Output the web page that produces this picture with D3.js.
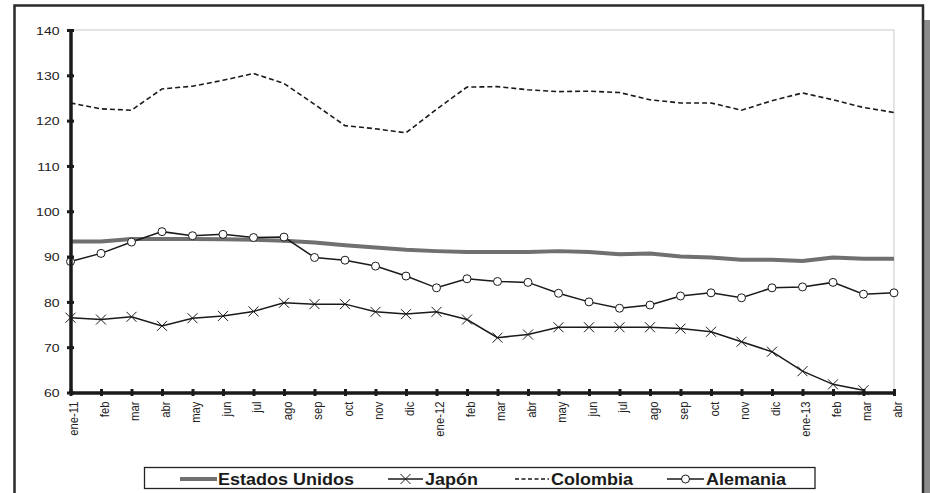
<!DOCTYPE html>
<html><head><meta charset="utf-8">
<script src="https://cdn.jsdelivr.net/npm/d3@7"></script>
<style>
html,body{margin:0;padding:0;background:#fff;}
svg{display:block;font-family:"Liberation Sans",Arial,sans-serif;}
</style></head>
<body>
<svg id="chart" width="930" height="493"></svg>
<script>
const monthLabels = ["ene-11","feb","mar","abr","may","jun","jul","ago","sep","oct","nov","dic",
  "ene-12","feb","mar","abr","may","jun","jul","ago","sep","oct","nov","dic",
  "ene-13","feb","mar","abr"];
const yTicks = [60,70,80,90,100,110,120,130,140];
const estadosUnidos = [93.3,93.3,93.9,93.9,93.9,93.8,93.7,93.5,93.1,92.5,92.0,91.5,91.2,91.0,91.0,91.0,91.2,91.0,90.5,90.7,90.0,89.8,89.3,89.3,89.0,89.8,89.5,89.5];
const japon = [76.5,76.1,76.7,74.7,76.4,76.9,77.9,79.8,79.5,79.5,77.8,77.3,77.8,76.1,72.1,72.8,74.4,74.4,74.4,74.4,74.1,73.4,71.2,69.0,64.7,61.8,60.5,null];
const colombia = [123.9,122.6,122.3,127.0,127.6,128.9,130.4,128.2,123.6,118.9,118.2,117.3,122.5,127.4,127.5,126.8,126.4,126.5,126.2,124.6,123.9,123.9,122.3,124.4,126.1,124.6,122.9,121.8];
const alemania = [88.9,90.7,93.2,95.5,94.6,94.9,94.2,94.3,89.8,89.2,87.9,85.7,83.1,85.1,84.5,84.3,81.9,80.0,78.6,79.3,81.3,82.0,80.9,83.1,83.3,84.3,81.7,82.0];
const seriesNames = ["Estados Unidos","Japón","Colombia","Alemania"];

const svg = d3.select("#chart");
const L = 70.5, R = 894, T = 30, B = 392.5;
const idx = d3.range(monthLabels.length);
const x = d3.scalePoint().domain(idx).range([L, R]);
const y = d3.scaleLinear().domain([60, 140]).range([B, T]);

// outer frame + shadow
svg.append("rect").attr("x", 924).attr("y", 20).attr("width", 6).attr("height", 480).attr("fill", "#8c8c8c");
svg.append("rect").attr("x", 14.5).attr("y", 5.5).attr("width", 908.5).attr("height", 500)
  .attr("fill", "none").attr("stroke", "#2a2a2a").attr("stroke-width", 2.5);

// plot area border (light)
svg.append("path").attr("d", `M${L},${T}H${R}V${B}`).attr("fill", "none")
  .attr("stroke", "#dcdcdc").attr("stroke-width", 1.5);

const lineIdx = arr => d3.line().defined(i => arr[i] != null).x(i => x(i)).y(i => y(arr[i]))(idx);

const plot = svg.append("g");
// US
plot.append("path").attr("d", lineIdx(estadosUnidos)).attr("fill", "none")
  .attr("stroke", "#707070").attr("stroke-width", 4).attr("stroke-linejoin", "round");
// Colombia
plot.append("path").attr("d", lineIdx(colombia)).attr("fill", "none")
  .attr("stroke", "#1a1a1a").attr("stroke-width", 1.6).attr("stroke-dasharray", "5,3");
// Japan
plot.append("path").attr("d", lineIdx(japon)).attr("fill", "none")
  .attr("stroke", "#1a1a1a").attr("stroke-width", 1.5);
const xs = 5;
function xMark(g, cx, cy) {
  g.append("path").attr("d", `M${cx-xs},${cy-xs}L${cx+xs},${cy+xs}M${cx-xs},${cy+xs}L${cx+xs},${cy-xs}`)
    .attr("stroke", "#1a1a1a").attr("stroke-width", 1);
}
idx.filter(i => japon[i] != null).forEach(i => xMark(plot, x(i), y(japon[i])));
// Alemania
plot.append("path").attr("d", lineIdx(alemania)).attr("fill", "none")
  .attr("stroke", "#1a1a1a").attr("stroke-width", 1.5);
plot.selectAll("circle.al").data(idx).join("circle").attr("class", "al")
  .attr("cx", i => x(i)).attr("cy", i => y(alemania[i])).attr("r", 4)
  .attr("fill", "#fff").attr("stroke", "#1a1a1a").attr("stroke-width", 1);

// axes
const yAxis = svg.append("g").attr("transform", `translate(${L},0)`)
  .call(d3.axisLeft(y).tickValues(yTicks).tickSize(0).tickPadding(0));
yAxis.select(".domain").attr("stroke", "#1a1a1a").attr("stroke-width", 3.5);
yAxis.selectAll(".tick").append("line").attr("x1", -3.5).attr("x2", 3.5)
  .attr("stroke", "#1a1a1a").attr("stroke-width", 3);
yAxis.selectAll(".tick text").attr("x", -11 / 1.19).attr("dy", "0.35em")
  .attr("transform", "scale(1.19,1)")
  .attr("font-size", 11.8).attr("fill", "#222").attr("font-family", "Liberation Sans, Arial, sans-serif");

const xAxis = svg.append("g").attr("transform", `translate(0,${B})`)
  .call(d3.axisBottom(x).tickFormat(i => monthLabels[i]).tickSize(0).tickPadding(0));
xAxis.select(".domain").attr("stroke", "#1a1a1a").attr("stroke-width", 3.5);
xAxis.selectAll(".tick").append("line").attr("y1", -3.5).attr("y2", 3.5)
  .attr("stroke", "#1a1a1a").attr("stroke-width", 3);
xAxis.selectAll(".tick text")
  .attr("transform", "translate(2.5,0) rotate(-90) scale(1,1.19)")
  .attr("x", -9).attr("y", 0).attr("dy", "0.35em")
  .attr("text-anchor", "end").attr("font-size", 11.3).attr("fill", "#222")
  .attr("font-family", "Liberation Sans, Arial, sans-serif");

// legend
const lg = svg.append("g");
lg.append("rect").attr("x", 144.5).attr("y", 467.5).attr("width", 670.5).attr("height", 21)
  .attr("fill", "#fff").attr("stroke", "#222").attr("stroke-width", 1.3);
const ly = 479;
const legendItems = [
  {name: seriesNames[0], x1: 180, x2: 217, tx: 218},
  {name: seriesNames[1], x1: 388, x2: 423, tx: 425},
  {name: seriesNames[2], x1: 515, x2: 549, tx: 551},
  {name: seriesNames[3], x1: 667, x2: 704, tx: 706}
];
legendItems.forEach((d, k) => {
  const ln = lg.append("line").attr("x1", d.x1).attr("x2", d.x2).attr("y1", ly).attr("y2", ly);
  if (k === 0) ln.attr("stroke", "#707070").attr("stroke-width", 4);
  else ln.attr("stroke", "#1a1a1a").attr("stroke-width", 1.5);
  if (k === 2) ln.attr("stroke-dasharray", "4,2.5");
  const cx = (d.x1 + d.x2) / 2;
  if (k === 1) xMark(lg, cx, ly);
  if (k === 3) lg.append("circle").attr("cx", cx).attr("cy", ly).attr("r", 4).attr("fill", "#fff")
    .attr("stroke", "#1a1a1a").attr("stroke-width", 1);
  lg.append("text").attr("transform", `translate(${d.tx},485) scale(1.125,1)`)
    .attr("font-size", 16).attr("font-weight", "bold").attr("fill", "#1a1a1a").text(d.name);
});
</script>
</body></html>
